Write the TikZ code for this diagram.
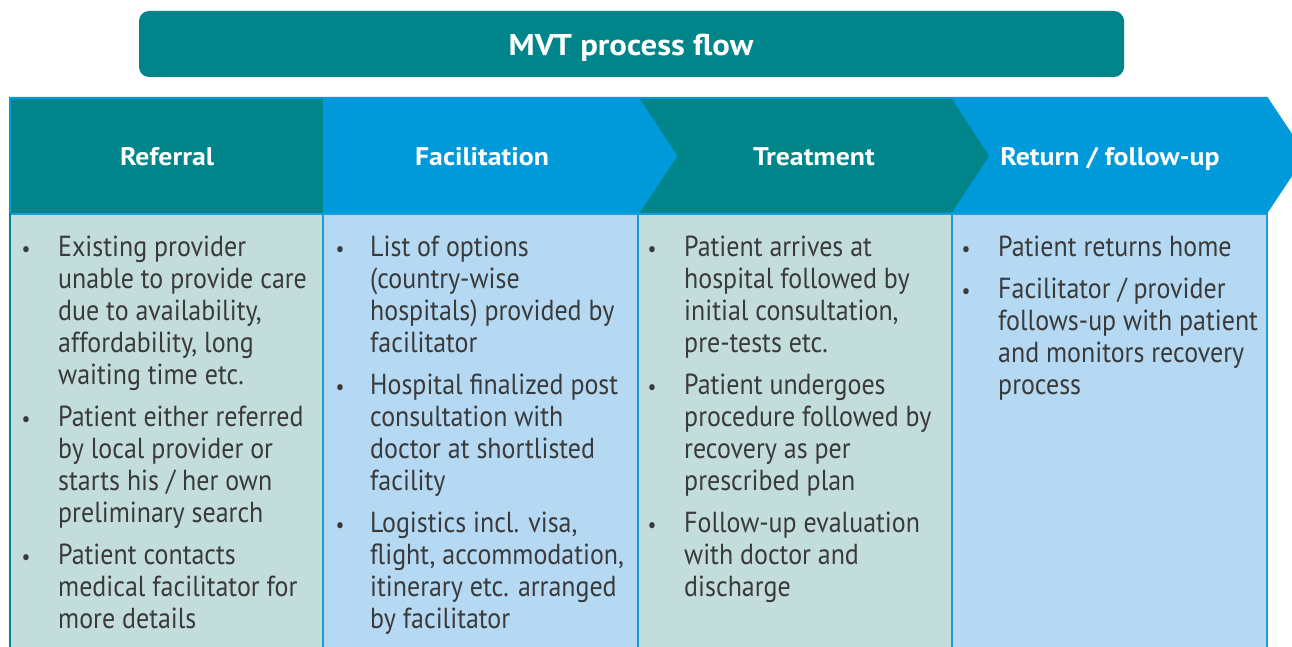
\documentclass[tikz,border=0pt]{standalone}
\usepackage{fontspec}
\setmainfont[FakeStretch=0.895]{PT Sans}
\newfontfamily\headfam[FakeStretch=1.09]{PT Sans}
\definecolor{hteal}{HTML}{00868A}
\definecolor{hblue}{HTML}{0099DA}
\definecolor{lteal}{HTML}{C3DDDC}
\definecolor{lblue}{HTML}{B5D9F2}
\definecolor{bline}{HTML}{1B9BD7}
\definecolor{txt}{HTML}{3A3A3A}
\newcommand\bodyfont{\fontsize{29}{32}\selectfont}
\newcommand\bl[1]{\vtop{\baselineskip=32pt\lineskiplimit=-30pt\lineskip=0pt\relax#1}}
\newcommand\li[1]{\hbox{\strut #1}}
\tikzset{
  bodytext/.style={anchor=base west, inner sep=0pt, text=txt, font=\bodyfont},
  bullet/.style={anchor=base, inner sep=0pt, text=txt, font=\fontsize{22}{22}\selectfont},
  headtext/.style={anchor=base, inner sep=0pt, text=white, font=\headfam\fontsize{25.5}{26}\selectfont\bfseries},
  divider/.style={draw=bline, line width=2pt},
}
\begin{document}
\begin{tikzpicture}[x=1pt,y=-1pt]
\clip (0,0) rectangle (1292,647);
\fill[white] (0,0) rectangle (1292,647);
% title bar
\fill[hteal, rounded corners=10pt] (139,11) rectangle (1124,77);
\node[headtext, font=\headfam\fontsize{30}{30}\selectfont\bfseries] (title) at (631,56) {MVT process flow};
% header chevrons
\fill[hblue] (9,97) -- (1267.5,97) -- (1306,155) -- (1267.5,213) -- (9,213) -- cycle;
\fill[hteal] (11,99) rectangle (323,212.5);
\fill[hteal] (640,99) -- (952,99) -- (989,156) -- (952,212.5) -- (640,212.5) -- (677.5,156) -- cycle;
\node[headtext] (h1) at (167,166) {Referral};
\node[headtext] (h2) at (482,166) {Facilitation};
\node[headtext] (h3) at (814,166) {Treatment};
\node[headtext] (h4) at (1110,166) {Return / follow-up};
% body cells
\fill[lteal] (9,213) rectangle (323,660);
\fill[lblue] (323,213) rectangle (638,660);
\fill[lteal] (638,213) rectangle (952,660);
\fill[lblue] (952,213) rectangle (1267,660);
\draw[divider] (9,214) -- (1267,214);
\draw[divider] (323,213) -- (323,660);
\draw[divider] (638,213) -- (638,660);
\draw[divider] (952,213) -- (952,660);
\draw[divider] (1266.5,213) -- (1266.5,660);
\draw[draw=hteal, line width=2pt] (9.5,213) -- (9.5,660);
% column 1
\node[bullet] (b11) at (26,256) {•};
\node[bodytext] (t11) at (58,256) {\bl{\li{Existing provider}\li{unable to provide care}\li{due to availability,}\li{affordability, long}\li{waiting time etc.}}};
\node[bullet] (b12) at (26,426) {•};
\node[bodytext] (t12) at (58,426) {\bl{\li{Patient either referred}\li{by local provider or}\li{starts his / her own}\li{preliminary search}}};
\node[bullet] (b13) at (26,564) {•};
\node[bodytext] (t13) at (58,564) {\bl{\li{Patient contacts}\li{medical facilitator for}\li{more details}}};
% column 2
\node[bullet] (b21) at (340,256) {•};
\node[bodytext] (t21) at (370,256) {\bl{\li{List of options}\li{(country-wise}\li{hospitals) provided by}\li{facilitator}}};
\node[bullet] (b22) at (340,394) {•};
\node[bodytext] (t22) at (370,394) {\bl{\li{Hospital finalized post}\li{consultation with}\li{doctor at shortlisted}\li{facility}}};
\node[bullet] (b23) at (340,532) {•};
\node[bodytext] (t23) at (370,532) {\bl{\li{Logistics incl. visa,}\li{flight, accommodation,}\li{itinerary etc. arranged}\li{by facilitator}}};
% column 3
\node[bullet] (b31) at (652,256) {•};
\node[bodytext] (t31) at (684,256) {\bl{\li{Patient arrives at}\li{hospital followed by}\li{initial consultation,}\li{pre-tests etc.}}};
\node[bullet] (b32) at (652,394) {•};
\node[bodytext] (t32) at (684,394) {\bl{\li{Patient undergoes}\li{procedure followed by}\li{recovery as per}\li{prescribed plan}}};
\node[bullet] (b33) at (652,532) {•};
\node[bodytext] (t33) at (684,532) {\bl{\li{Follow-up evaluation}\li{with doctor and}\li{discharge}}};
% column 4
\node[bullet] (b41) at (966,256) {•};
\node[bodytext] (t41) at (998,256) {\bl{\li{Patient returns home}}};
\node[bullet] (b42) at (966,298) {•};
\node[bodytext] (t42) at (998,298) {\bl{\li{Facilitator / provider}\li{follows-up with patient}\li{and monitors recovery}\li{process}}};
\end{tikzpicture}
\end{document}
